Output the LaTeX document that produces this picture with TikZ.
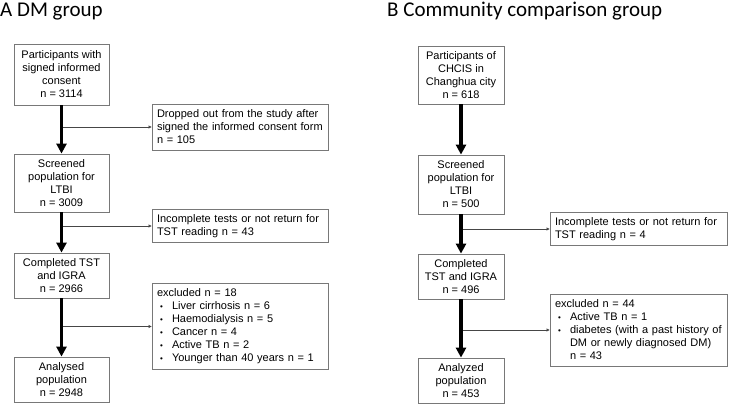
\documentclass[tikz,border=0pt]{standalone}
\usepackage{fontspec}
\setmainfont{Liberation Sans}
\newfontfamily\titlefont{Carlito}
\usetikzlibrary{arrows.meta}
\definecolor{boxgray}{RGB}{120,120,120}
\definecolor{linegray}{RGB}{70,70,70}
\newcommand{\itm}{\makebox[15pt][l]{\hspace{3pt}{\fontsize{8}{8}\selectfont\textbullet}}}
\tikzset{
  mainbox/.style={draw=boxgray, line width=0.8pt, inner sep=0pt, align=center,
    font=\fontsize{11}{13}\selectfont},
  sidebox/.style={draw=boxgray, line width=0.8pt, inner sep=5pt, align=left,
    font=\fontsize{11}{13}\selectfont},
  mainarrow/.style={line width=3.6pt, -{Triangle[width=10pt,length=10pt]}},
  sidearrow/.style={draw=linegray, line width=0.6pt, -{Triangle[width=3pt,length=3pt]}},
  heading/.style={inner sep=0pt, anchor=base west, font=\titlefont\fontsize{21}{25}\selectfont}
}
\begin{document}
\begin{tikzpicture}[x=1pt,y=-1pt]
    \useasboundingbox (0,0) rectangle (729,406);

    % A: DM group
    \node[heading] (titleA) at (0,17) {A DM group};
    \node[mainbox, minimum width=95pt, minimum height=61pt] (P1) at (61.5,74.5)
      {Participants with\\signed informed\\consent\\n = 3114};
    \node[mainbox, minimum width=95pt, minimum height=58pt] (S1) at (61.5,183)
      {Screened\\population for\\LTBI\\n = 3009};
    \node[mainbox, minimum width=95pt, minimum height=45pt] (C1) at (61.5,275.5)
      {Completed TST\\and IGRA\\n = 2966};
    \node[mainbox, minimum width=95pt, minimum height=45pt] (A1) at (61.5,379.5)
      {Analysed\\population\\n = 2948};

    \node[sidebox, text width=166pt, minimum height=46pt] (D1) at (240,127)
      {Dropped out from the study after\\signed the informed consent form\\n = 105};
    \node[sidebox, text width=166pt, minimum height=32pt] (I1) at (240,226)
      {Incomplete tests or not return for\\TST reading n = 43};
    \node[sidebox, text width=166pt, minimum height=85pt] (E1) at (240,326.5)
      {excluded n = 18\\\itm Liver cirrhosis n = 6\\\itm Haemodialysis n = 5\\
       \itm Cancer n = 4\\\itm Active TB n = 2\\\itm Younger than 40 years n = 1};

    \draw[mainarrow] (P1) -- (S1);
    \draw[mainarrow] (S1) -- (C1);
    \draw[mainarrow] (C1) -- (A1);
    \draw[sidearrow] ([xshift=1.8pt]P1 |- D1.west) -- (D1.west);
    \draw[sidearrow] ([xshift=1.8pt]S1 |- I1.west) -- (I1.west);
    \draw[sidearrow] ([xshift=1.8pt]C1 |- E1.west) -- (E1.west);

    % B: community comparison group
    \node[heading] (titleB) at (387,17) {B Community comparison group};
    \node[mainbox, minimum width=86pt, minimum height=58pt] (P2) at (461,75)
      {Participants of\\CHCIS in\\Changhua city\\n = 618};
    \node[mainbox, minimum width=86pt, minimum height=59pt] (S2) at (461,184.5)
      {Screened\\population for\\LTBI\\n = 500};
    \node[mainbox, minimum width=86pt, minimum height=45pt] (C2) at (461,276.5)
      {Completed\\TST and IGRA\\n = 496};
    \node[mainbox, minimum width=86pt, minimum height=45pt] (A2) at (461,380.5)
      {Analyzed\\population\\n = 453};

    \node[sidebox, text width=167pt, minimum height=28pt] (I2) at (638.5,229)
      {Incomplete tests or not return for\\TST reading n = 4};
    \node[sidebox, text width=167pt, minimum height=72pt] (E2) at (638.5,330)
      {excluded n = 44\\\itm Active TB n = 1\\\itm diabetes (with a past history of\\
       \hspace*{15pt}DM or newly diagnosed DM)\\\hspace*{15pt}n = 43};

    \draw[mainarrow] (P2) -- (S2);
    \draw[mainarrow] (S2) -- (C2);
    \draw[mainarrow] (C2) -- (A2);
    \draw[sidearrow] ([xshift=1.8pt]S2 |- I2.west) -- (I2.west);
    \draw[sidearrow] ([xshift=1.8pt]C2 |- E2.west) -- (E2.west);
\end{tikzpicture}
\end{document}
